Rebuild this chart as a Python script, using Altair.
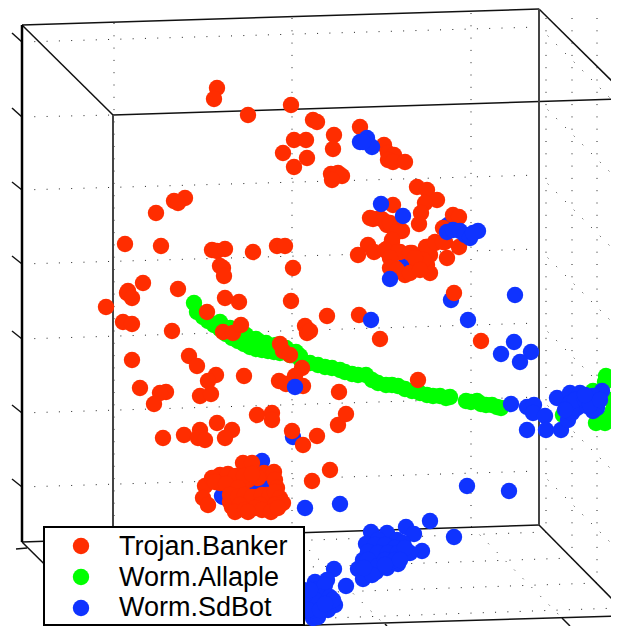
import altair as alt
import pandas as pd

# Projected coordinates
red_x = [217,214,248,291,313,317,294,306,283,307,294,334,333,331,338,342,332,360,384,388,394,388,393,405,
         185,174,178,156,125,161,212,217,225,253,277,285,293,220,223,224,143,128,127,132,178,225,239,291,106,207,
         417,427,437,425,421,419,393,373,380,387,393,402,453,459,443,445,435,426,459,447,368,358,374,392,388,400,412,390,430,423,422,392,405,395,417,430,427,454,
         327,359,123,132,172,132,189,197,216,208,244,140,166,160,154,200,211,223,233,241,305,307,280,283,290,302,295,279,286,303,
         257,272,272,217,232,225,163,184,200,198,205,292,303,317,338,346,339,380,481,418,330,312,310,
         243,252,205,203,208,220,229,220,232,240,248,264,274,275,277,278,267,253,245,237,230,232,240,257,267,270,252,223,235,258,
         212,228,236,244,252,215,226,238,230,238,245,252,262,270,275,280,283,275,260,240,235,245,255,262,271,248,278,
         370,383,390,397,392,385,398,410,390,390,417,427,435,443,423,415,397,410,420]
red_y = [88,99,115,105,120,122,140,140,153,158,167,135,149,174,173,176,180,127,145,153,155,160,162,162,
         198,201,203,213,244,246,250,251,249,252,246,246,268,266,268,276,283,291,293,298,289,298,302,301,307,312,
         187,190,200,203,213,224,205,219,218,225,228,231,215,217,228,242,243,247,247,258,245,255,252,242,248,252,253,257,255,257,263,268,275,268,267,273,265,293,
         316,315,322,324,331,360,356,366,375,381,376,388,392,393,404,396,394,332,333,325,326,333,344,351,355,368,376,381,384,386,
         415,413,420,423,430,438,438,435,430,438,440,431,445,436,425,414,392,339,341,380,470,481,331,
         463,463,486,498,505,475,478,483,487,482,480,473,472,480,488,500,509,503,507,510,502,507,500,497,495,503,508,482,483,478,
         478,474,476,476,474,482,484,488,495,497,495,497,495,495,492,498,503,505,505,505,512,510,508,510,512,512,508,
         218,220,223,232,240,250,252,253,258,268,267,247,242,242,260,258,270,273,270]

green_x = [194,197,203,208,214,220,226,232,238,244,250,256,262,268,274,280,290,300,310,318,325,332,340,345,352,358,366,372,378,386,392,398,405,412,420,427,433,440,446,450,466,471,477,481,486,492,497,501,
           220,230,240,250,260,270,280,290,300,
           236,246,256,266,276,286,296,
           606,605,612,613,605,596,563,593,608,600]
green_y = [303,312,317,321,325,329,334,338,341,344,347,349,350,351,352,353,355,359,363,365,367,368,370,372,374,375,375,380,383,385,385,386,389,391,393,395,396,396,398,397,401,402,401,404,405,405,407,408,
           322,328,334,339,342,346,348,352,356,
           330,335,339,343,345,348,352,
           376,382,400,410,423,423,415,391,418,418]

blue_under_x = [406,451,293,262,222,240,253,263,223,232,258,448]
blue_under_y = [263,300,437,461,496,491,485,486,497,492,472,225]

blue_x = [360,367,372,363,381,403,390,515,447,453,460,465,470,478,473,371,468,514,501,531,520,
          511,527,527,534,533,545,546,561,568,572,557,570,580,602,570,580,590,597,593,577,587,593,
          467,509,340,305,295,
          430,406,414,422,371,387,366,378,397,403,390,373,410,363,358,363,376,387,398,370,380,393,403,
          334,346,315,327,312,323,335,328,313,310,322,318,313,454,303,303,
          375,385,395,368,378,388,398,405,368,378,385,395,372,364,385,400,
          315,325,320,330,315,333,305,308,320,310,325,
          575,585,590,565,600,585]
blue_y = [142,138,147,142,204,216,279,295,232,230,231,235,238,231,233,320,320,342,354,352,362,
          404,430,407,405,413,416,430,430,420,413,398,393,393,391,403,403,400,408,411,408,406,396,
          486,491,504,508,387,
          521,527,534,551,532,533,544,540,540,543,547,550,553,560,569,579,572,568,564,567,560,557,555,
          569,586,582,580,592,592,605,610,618,603,603,617,610,537,590,610,
          545,545,548,552,553,553,553,548,560,566,560,560,575,568,565,560,
          590,585,597,597,600,600,595,610,610,590,604,
          400,400,405,410,400,395]

# Box edges: (x, y, x2, y2)
thick_edges = [(22,25,22,542)]
gray_edges = [(113,115,113,540),(539,9,539,525)]
thin_edges = [(22,25,539,9),(113,115,619,99),(22,25,113,115),(539,9,619,88),
              (539,525,619,606),(22,542,539,525),(22,542,113,632),(113,631,619,616),
              (12,33,22,42),(12,108,22,117),(12,182,22,190),(12,256,22,264),(12,331,22,339),(12,405,22,413),(12,479,22,487),
              (16,549,27,548),(562,618,570,626),(385,624,387,626)]
# Dotted grid
grid_lines = [(22,42,539,27),(22,117,113,115),(22,190,539,175),(22,264,539,249),(22,339,539,323),(22,413,539,397),(22,487,539,471),
              (114,23,114,540),(292,18,292,533),(471,13,471,527),
              (546,18,546,532),(572,18,572,558),(597,18,597,583),
              (539,27,619,107),(539,101,619,181),(539,175,619,255),(539,249,619,329),(539,323,619,403),(539,397,619,477),(539,471,619,551),
              (546,532,50,549),(572,558,76,575),(597,583,101,600),(619,608,127,625),
              (292,533,385,625),(471,526,562,618)]

legend_labels = ["Trojan.Banker", "Worm.Allaple", "Worm.SdBot"]
legend_colors = ["#ff2d00", "#00ff00", "#0f33ff"]
legend_marker_x = [81, 81, 81]
legend_marker_y = [546, 577, 608]
legend_text_x = [119, 119, 119]
legend_text_y = [555, 586, 616]
legend_box = [(44, 527, 304, 625)]

X = alt.Scale(domain=[8, 611], nice=False, zero=False)
Y = alt.Scale(domain=[626, 8], nice=False, zero=False)
xe = alt.X("x:Q", scale=X, axis=None)
ye = alt.Y("y:Q", scale=Y, axis=None)


def segs(rows):
    return pd.DataFrame(rows, columns=["x", "y", "x2", "y2"])


def rules(rows, **style):
    return alt.Chart(segs(rows)).mark_rule(clip=True, **style).encode(
        x=xe, y=ye, x2="x2:Q", y2="y2:Q")


def pts(xs, ys, color):
    return alt.Chart(pd.DataFrame({"x": xs, "y": ys})).mark_circle(
        size=270, color=color, opacity=1).encode(x=xe, y=ye)


legend_df = pd.DataFrame({"label": legend_labels, "color": legend_colors,
                          "mx": legend_marker_x, "my": legend_marker_y,
                          "tx": legend_text_x, "ty": legend_text_y})

box = alt.Chart(segs(legend_box)).mark_rect(fill="white", stroke="black", strokeWidth=2).encode(
    x=xe, y=ye, x2="x2:Q", y2="y2:Q")
legend_pts = alt.Chart(legend_df).mark_circle(size=270, opacity=1).encode(
    x=alt.X("mx:Q", scale=X, axis=None), y=alt.Y("my:Q", scale=Y, axis=None),
    color=alt.Color("color:N", scale=None))
legend_txt = alt.Chart(legend_df).mark_text(
    font="Liberation Sans", fontSize=27, align="left", baseline="alphabetic", color="black").encode(
    x=alt.X("tx:Q", scale=X, axis=None), y=alt.Y("ty:Q", scale=Y, axis=None), text="label:N")

chart = alt.layer(
    rules(grid_lines, color="#222222", strokeWidth=1, strokeDash=[1, 11.3]),
    rules(thin_edges, color="#111111", strokeWidth=1.5),
    rules(gray_edges, color="#444444", strokeWidth=2),
    rules(thick_edges, color="#000000", strokeWidth=2.5),
    pts(blue_under_x, blue_under_y, legend_colors[2]),
    pts(green_x, green_y, legend_colors[1]),
    pts(red_x, red_y, legend_colors[0]),
    pts(blue_x, blue_y, legend_colors[2]),
    box, legend_pts, legend_txt,
).properties(
    width=603, height=618, padding=0, background="white",
    autosize=alt.AutoSizeParams(type="none"),
).configure_view(stroke=None)

chart.save("out.html", embed_options={"renderer": "svg", "actions": False})
